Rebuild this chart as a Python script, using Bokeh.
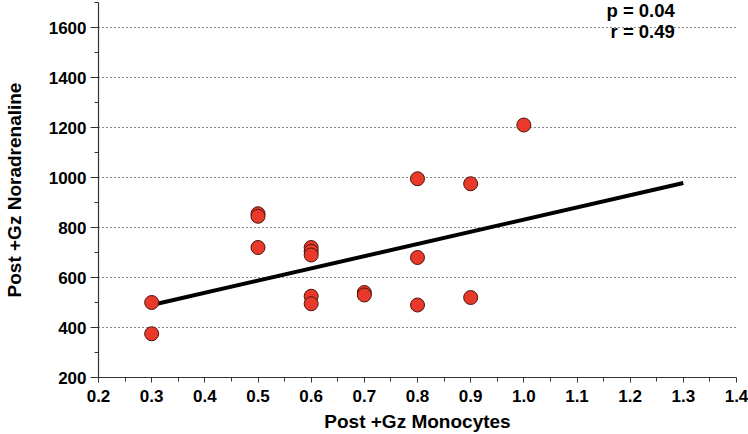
from bokeh.plotting import figure
from bokeh.models import FixedTicker, Range1d
from bokeh.core.properties import value
from bokeh.embed import file_html
from bokeh.resources import INLINE

# Data
monocytes = [0.3, 0.3, 0.5, 0.5, 0.5, 0.6, 0.6, 0.6, 0.6, 0.6, 0.7, 0.7, 0.8, 0.8, 0.8, 0.9, 0.9, 1.0]
noradrenaline = [500, 375, 855, 845, 720, 720, 705, 690, 525, 495, 540, 530, 995, 680, 490, 975, 520, 1210]
fit_x = [0.3, 1.3]
fit_y = [490, 978]
stat_labels = ["p = 0.04", "r = 0.49"]
x_ticks = [0.2, 0.3, 0.4, 0.5, 0.6, 0.7, 0.8, 0.9, 1.0, 1.1, 1.2, 1.3, 1.4]
x_tick_labels = ["0.2", "0.3", "0.4", "0.5", "0.6", "0.7", "0.8", "0.9", "1.0", "1.1", "1.2", "1.3", "1.4"]
y_ticks = [200, 400, 600, 800, 1000, 1200, 1400, 1600]

FONT = "Liberation Sans"

p = figure(width=748, height=434, output_backend="svg", toolbar_location=None,
           x_range=Range1d(0.2, 1.4), y_range=Range1d(200, 1700),
           min_border_left=97, min_border_right=12, min_border_top=2, min_border_bottom=56)
p.outline_line_color = None
p.background_fill_color = "white"
p.border_fill_color = "white"

# grids
p.xgrid.grid_line_color = None
p.ygrid.grid_line_color = "#111111"
p.ygrid.grid_line_dash = "1 3"
p.ygrid.grid_line_width = 1

# axes
p.xaxis.ticker = FixedTicker(ticks=x_ticks, minor_ticks=[t + 0.05 for t in x_ticks[:-1]])
p.xaxis.major_label_overrides = {t: l for t, l in zip(x_ticks, x_tick_labels)}
p.yaxis.ticker = FixedTicker(ticks=y_ticks, minor_ticks=[t + 100 for t in y_ticks])

for ax in (p.xaxis[0], p.yaxis[0]):
    ax.axis_line_color = "#333333"
    ax.axis_line_width = 1.2
    ax.major_tick_line_color = "#333333"
    ax.minor_tick_line_color = "#333333"
    ax.major_tick_in = 0
    ax.minor_tick_in = 0
    ax.major_label_text_font = FONT
    ax.major_label_text_font_style = "bold"
    ax.major_label_text_font_size = "17px"
    ax.major_label_text_color = "black"
    ax.axis_label_text_font = FONT
    ax.axis_label_text_font_style = "bold"
    ax.axis_label_text_font_size = "19px"
    ax.axis_label_text_color = "black"

p.xaxis.major_tick_out = 5
p.xaxis.minor_tick_out = 4
p.xaxis.major_label_standoff = 7
p.xaxis.axis_label = "Post +Gz Monocytes"
p.xaxis.axis_label_standoff = 6

p.yaxis.major_tick_out = 8
p.yaxis.minor_tick_out = 4
p.yaxis.major_label_standoff = 4
p.yaxis.axis_label = "Post +Gz Noradrenaline"
p.yaxis.axis_label_standoff = 21

# regression line
p.line(fit_x, fit_y, line_color="black", line_width=4)

# points
p.scatter(monocytes, noradrenaline, size=14, fill_color="#e8392a", line_color="#4a1510", line_width=1)

# statistics text
p.text(x=[1.284, 1.284], y=[1670, 1586], text=stat_labels, text_align="right", text_baseline="middle",
       text_font=value(FONT), text_font_style="bold", text_font_size="18.5px", text_color="black")

open("out.html", "w").write(file_html(p, INLINE))
